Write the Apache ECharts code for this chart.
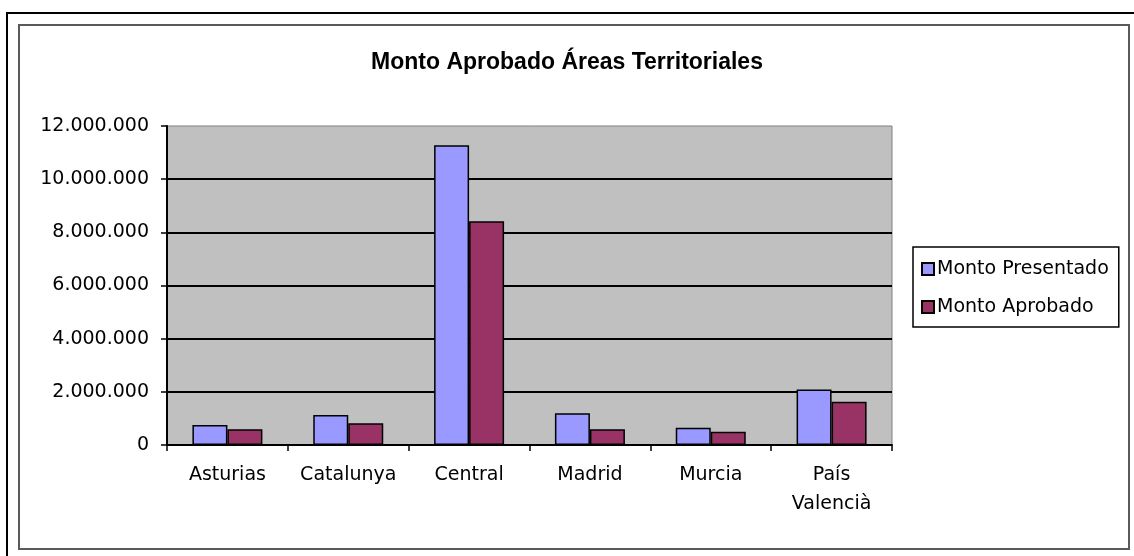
<!DOCTYPE html>
<html>
<head>
<meta charset="utf-8">
<script src="https://cdn.jsdelivr.net/npm/echarts@6/dist/echarts.min.js"></script>
<style>
  html, body { margin: 0; padding: 0; background: #fff; }
  #main { width: 1134px; height: 556px; }
</style>
</head>
<body>
<div id="main"></div>
<script>
var categories = ['Asturias', 'Catalunya', 'Central', 'Madrid', 'Murcia', 'País Valencià'];
var montoPresentado = [750000, 1130000, 11280000, 1190000, 650000, 2090000];
var montoAprobado = [590000, 820000, 8420000, 590000, 500000, 1630000];
var seriesNames = ['Monto Presentado', 'Monto Aprobado'];

function puntos(v) {
    return String(v).replace(/\B(?=(\d{3})+(?!\d))/g, '.');
}

var myChart = echarts.init(document.getElementById('main'));

var labelFont = 'DejaVu Sans';

option = {
    color: ['#9999ff', '#993366'],
    animation: false,
    title: {
        text: 'Monto Aprobado Áreas Territoriales',
        left: 'center',
        top: 46,
        textStyle: {
            fontFamily: 'Liberation Sans',
            fontSize: 23,
            fontWeight: 'bold',
            color: '#000'
        }
    },
    legend: {
        orient: 'vertical',
        left: 913,
        top: 247,
        padding: [11, 10, 9, 8],
        itemWidth: 12,
        itemHeight: 12,
        itemGap: 16,
        icon: 'rect',
        borderColor: '#000',
        borderWidth: 1.5,
        textStyle: {
            fontFamily: labelFont,
            fontSize: 19,
            lineHeight: 22,
            color: '#000',
            padding: [0, 0, 0, -2]
        },
        data: seriesNames
    },
    graphic: [
        { type: 'line', shape: { x1: 6, y1: 13, x2: 1134, y2: 13 }, style: { stroke: '#000', lineWidth: 2 } },
        { type: 'line', shape: { x1: 7, y1: 12, x2: 7, y2: 556 }, style: { stroke: '#000', lineWidth: 2 } },
        { type: 'rect', shape: { x: 19, y: 25, width: 1110, height: 524 }, style: { fill: 'none', stroke: '#5a5a5a', lineWidth: 2 } }
    ],
    grid: {
        left: 167,
        right: 242,
        top: 126,
        bottom: 111,
        show: true,
        backgroundColor: '#c0c0c0',
        borderColor: '#808080',
        borderWidth: 1
    },
    xAxis: {
        type: 'category',
        data: categories,
        axisLine: { lineStyle: { color: '#000', width: 2 } },
        axisTick: { show: true, interval: 0, length: 6, lineStyle: { color: '#000', width: 1.5 } },
        axisLabel: {
            interval: 0,
            margin: 16,
            color: '#000',
            fontFamily: labelFont,
            fontSize: 19,
            lineHeight: 29,
            formatter: function (v) { return v.replace(' ', '\n'); }
        }
    },
    yAxis: {
        type: 'value',
        min: 0,
        max: 12000000,
        interval: 2000000,
        axisLine: { show: true, lineStyle: { color: '#000', width: 2 } },
        axisTick: { show: true, length: 6, lineStyle: { color: '#000', width: 1.5 } },
        axisLabel: {
            margin: 18,
            color: '#000',
            fontFamily: labelFont,
            fontSize: 19,
            formatter: puntos
        },
        splitLine: {
            show: true,
            showMaxLine: false,
            lineStyle: { color: '#000', width: 2 }
        }
    },
    series: [
        {
            name: seriesNames[0],
            type: 'bar',
            barWidth: 35,
            barGap: '0%',
            itemStyle: { borderColor: '#000', borderWidth: 1.5 },
            data: montoPresentado
        },
        {
            name: seriesNames[1],
            type: 'bar',
            barWidth: 35,
            barGap: '0%',
            itemStyle: { borderColor: '#000', borderWidth: 1.5 },
            data: montoAprobado
        }
    ]
};
myChart.setOption(option);
window.addEventListener('resize', function () {
    myChart.resize();
});
</script>
</body>
</html>
